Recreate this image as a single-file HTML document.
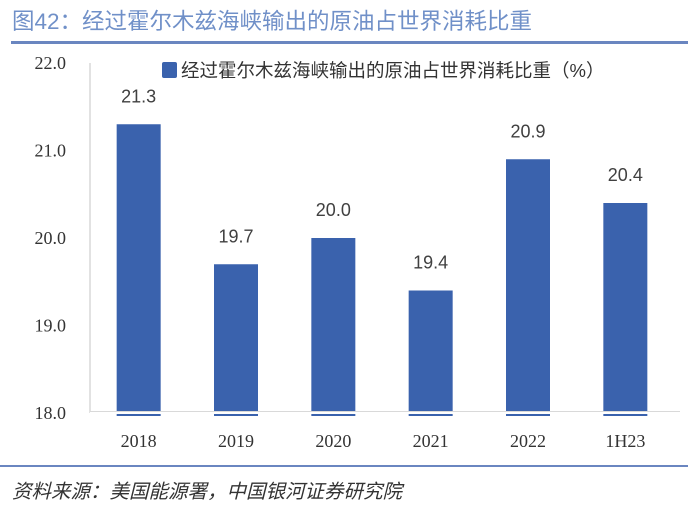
<!DOCTYPE html>
<html><head><meta charset="utf-8"><style>
body{margin:0;background:#fff;width:700px;height:514px;overflow:hidden;font-family:"Liberation Serif","Noto Serif CJK SC",serif}
.t{position:absolute;left:12px;top:4px;font-size:22.5px;color:#7090c8;font-family:"Liberation Sans","Noto Sans CJK SC",sans-serif}
.src{position:absolute;left:12px;top:475px;font-size:19.5px;font-style:italic;color:#333;font-family:"Liberation Sans","Noto Sans CJK SC",sans-serif}
</style></head><body>
<div class="t">图42：经过霍尔木兹海峡输出的原油占世界消耗比重</div>
<div style="position:absolute;left:11px;top:41px;width:677px;height:3px;background:#6a86c0"></div>
<svg id="c" width="700" height="514" style="position:absolute;left:0;top:0"></svg>
<div style="position:absolute;left:0;top:465px;width:688px;height:2px;background:#6a86c0"></div>
<div class="src">资料来源：美国能源署，中国银河证券研究院</div>
<script>
const categories=["2018","2019","2020","2021","2022","1H23"];
const values=[21.3,19.7,20.0,19.4,20.9,20.4];
const valueLabels=["21.3","19.7","20.0","19.4","20.9","20.4"];
const yTicks=[18,19,20,21,22];
const yTickLabels=["18.0","19.0","20.0","21.0","22.0"];
const NS="http://www.w3.org/2000/svg",svg=document.getElementById('c');
const x0=90,x1=674,yMin=18,yMax=22,py0=413,py1=63;
const y=v=>py0-(v-yMin)/(yMax-yMin)*(py0-py1);
const bw=(x1-x0)/categories.length;
const xc=i=>x0+bw*(i+0.5);
function mk(t,a,txt){const e=document.createElementNS(NS,t);for(const k in a)e.setAttribute(k,a[k]);if(txt!=null)e.textContent=txt;svg.appendChild(e);return e;}
let e=mk('line',{x1:x0,y1:py1,x2:x0,y2:py0,stroke:'#d9d9d9','stroke-width':1.5});

yTicks.forEach((v,i)=>{const t=mk('text',{x:66,y:y(v)+6,'text-anchor':'end','font-size':18,fill:'#333'},yTickLabels[i]);
});
values.forEach((v,i)=>{
const r=mk('rect',{x:xc(i)-22,y:y(v),width:44,height:py0+3-y(v),fill:'#3a62ad'});

const l=mk('text',{x:xc(i),y:y(v)-22,'text-anchor':'middle','font-size':18,fill:'#404040','font-family':'Liberation Sans, sans-serif'},valueLabels[i]);

const c=mk('text',{x:xc(i),y:447,'text-anchor':'middle','font-size':18,fill:'#333'},categories[i]);
});
e=mk('line',{x1:x0,y1:py0,x2:x1+6,y2:py0,stroke:'#fff','stroke-width':2});

e=mk('line',{x1:x0,y1:py0-1.5,x2:x1+6,y2:py0-1.5,stroke:'#d9d9d9','stroke-width':1});

e=mk('rect',{x:162,y:62,width:15,height:16,rx:2,fill:'#3a62ad'});

e=mk('text',{x:181,y:77,'font-size':18.5,fill:'#333','font-family':'Liberation Sans, Noto Sans CJK SC, sans-serif'},'经过霍尔木兹海峡输出的原油占世界消耗比重（%）');

</script>
</body></html>
